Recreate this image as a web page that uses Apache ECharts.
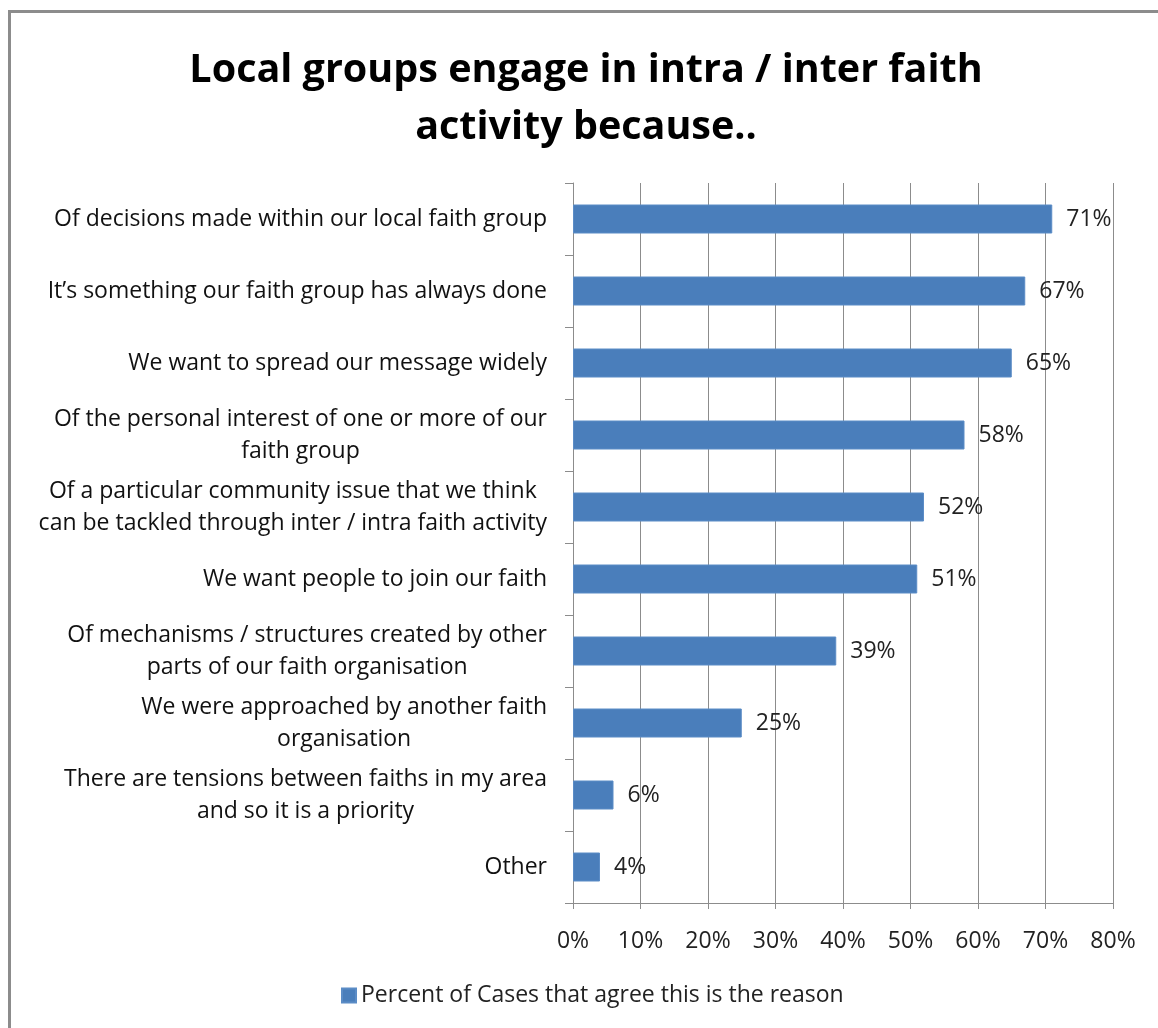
<!DOCTYPE html>
<html>
<head>
<meta charset="utf-8">
<script src="https://cdn.jsdelivr.net/npm/echarts@6/dist/echarts.min.js"></script>
<style>
  html, body { margin: 0; padding: 0; background: #fff; }
  #frame {
    position: absolute; left: 8px; top: 10px; width: 1200px; height: 1100px;
    border-left: 3px solid #8c8c8c; border-top: 3px solid #8c8c8c;
  }
  #chart { position: absolute; left: 0; top: 0; width: 1158px; height: 1028px; }
</style>
</head>
<body>
<div id="frame"></div>
<div id="chart"></div>
<script>
// chart data
var categories = [
  "Of decisions made within our local faith group",
  "It\u2019s something our faith group has always done",
  "We want to spread our message widely",
  "Of the personal interest of one or more of our\nfaith group",
  "Of a particular community issue that we think\ncan be tackled through inter / intra faith activity",
  "We want people to join our faith",
  "Of mechanisms / structures created by other\nparts of our faith organisation",
  "We were approached by another faith\norganisation",
  "There are tensions between faiths in my area\nand so it is a priority",
  "Other"
];
var percentValues = [71, 67, 65, 58, 52, 51, 39, 25, 6, 4];
var seriesName = "Percent of Cases that agree this is the reason";
var titleText = "Local groups engage in intra / inter faith\nactivity because..";

var FONT = "Open Sans";
var chart = echarts.init(document.getElementById("chart"), null, { renderer: "canvas" });

chart.setOption({
  animation: false,
  backgroundColor: "transparent",
  title: {
    text: titleText,
    left: 581,
    textAlign: "center",
    top: 37,
    textStyle: { fontFamily: FONT, fontWeight: "bold", fontSize: 39.5, lineHeight: 57, color: "#000" }
  },
  legend: {
    data: [seriesName],
    left: 336,
    top: 979,
    itemWidth: 14,
    itemHeight: 14,
    itemGap: 7,
    icon: "rect",
    textStyle: { fontFamily: FONT, fontSize: 23, color: "#222" }
  },
  grid: { left: 573, right: 45, top: 183, bottom: 125, containLabel: false },
  xAxis: {
    type: "value",
    min: 0,
    max: 80,
    interval: 10,
    axisLine: { show: true, lineStyle: { color: "#8c8c8c", width: 1 } },
    axisTick: { show: true, length: 6, lineStyle: { color: "#8c8c8c" } },
    splitLine: { show: true, lineStyle: { color: "#8c8c8c", width: 1 } },
    axisLabel: {
      formatter: "{value}%",
      margin: 27,
      fontFamily: FONT,
      fontSize: 23,
      color: "#222"
    }
  },
  yAxis: {
    type: "category",
    inverse: true,
    data: categories,
    axisLine: { show: true, lineStyle: { color: "#8c8c8c", width: 1 } },
    axisTick: { show: true, length: 8, lineStyle: { color: "#8c8c8c" } },
    axisLabel: {
      margin: 26,
      align: "right",
      formatter: function (v) {
        return v.split("\n").map(function (line) { return "{c|" + line + "}"; }).join("\n");
      },
      rich: {
        c: { align: "center", fontFamily: FONT, fontSize: 23, lineHeight: 32, color: "#111" }
      }
    }
  },
  series: [{
    name: seriesName,
    type: "bar",
    data: percentValues,
    barWidth: 29,
    itemStyle: { color: "#4a7ebb", borderColor: "#5b8cc6", borderWidth: 1 },
    label: {
      show: true,
      position: "right",
      distance: 14,
      formatter: "{c}%",
      fontFamily: FONT,
      fontSize: 23,
      color: "#222"
    }
  }]
});
</script>
</body>
</html>
